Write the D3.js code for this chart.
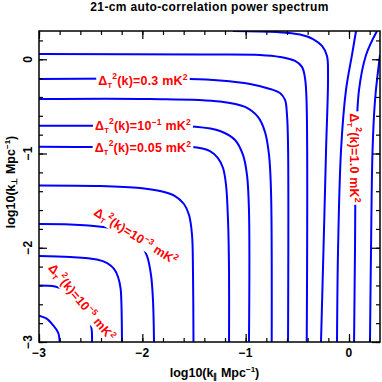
<!DOCTYPE html>
<html><head><meta charset="utf-8">
<script src="https://cdn.jsdelivr.net/npm/d3@7"></script>
<style>body{margin:0;background:#fff} svg{display:block}</style>
</head><body>
<script>
// ---------- data (log10 k_par, log10 k_perp) ----------
const title = "21-cm auto-correlation power spectrum";
const xTickValues = [-3, -2, -1, 0];
const yTickValues = [-3, -2, -1, 0];
const xTickLabels = ["−3", "−2", "−1", "0"];
const yTickLabels = ["−3", "−2", "−1", "0"];

const C1 = [[-3.0,-2.72],[-2.93,-2.75],[-2.865,-2.82],[-2.815,-2.90],[-2.80,-3.0]];
const C2 = [[-3,-2.40],[-2.845,-2.41],[-2.74,-2.45],[-2.64,-2.52],[-2.565,-2.63],[-2.515,-2.745],[-2.49,-2.87],[-2.487,-3]];
const C3 = [[-3,-2.087],[-2.70,-2.098],[-2.44,-2.125],[-2.34,-2.162],[-2.274,-2.225],[-2.235,-2.31],[-2.211,-2.427],[-2.202,-2.607],[-2.197,-3]];
const C4 = [[-3,-1.748],[-2.70,-1.753],[-2.38,-1.78],[-2.216,-1.812],[-2.10,-1.875],[-2.013,-1.971],[-1.955,-2.087],[-1.916,-2.289],[-1.897,-2.554],[-1.887,-3]];
const C5 = [[-3,-1.339],[-2.41,-1.345],[-2.023,-1.366],[-1.829,-1.398],[-1.684,-1.451],[-1.597,-1.536],[-1.548,-1.652],[-1.519,-1.865],[-1.51,-2.236],[-1.505,-3]];
const C6 = [[-3,-0.928],[-2.41,-0.932],[-1.471,-0.936],[-1.345,-0.974],[-1.268,-1.048],[-1.219,-1.154],[-1.19,-1.334],[-1.171,-1.706],[-1.161,-2.236],[-1.161,-3]];
const C7 = [[-3,-0.705],[-1.926,-0.708],[-1.49,-0.716],[-1.248,-0.761],[-1.103,-0.857],[-1.026,-1.015],[-0.987,-1.228],[-0.968,-1.599],[-0.968,-3]];
const C8 = [[-3,-0.421],[-1.926,-0.421],[-1.248,-0.448],[-1.006,-0.506],[-0.881,-0.612],[-0.813,-0.771],[-0.774,-1.015],[-0.755,-1.387],[-0.748,-3]];
const C9 = [[-3,-0.209],[-1.539,-0.209],[-1.248,-0.225],[-0.958,-0.262],[-0.764,-0.315],[-0.668,-0.358],[-0.619,-0.432],[-0.60,-0.591],[-0.59,-0.902],[-0.59,-3]];
const C10 = [[-3,0.056],[-1.442,0.051],[-0.861,0.046],[-0.668,0.025],[-0.522,-0.018],[-0.455,-0.081],[-0.426,-0.198],[-0.411,-0.432],[-0.409,-3]];
const C11 = [[-1.123,0.30],[-0.697,0.289],[-0.474,0.263],[-0.348,0.215],[-0.261,0.141],[-0.213,0.035],[-0.203,-0.167],[-0.222,-0.963],[-0.247,-2.024],[-0.271,-3]];
const C12 = [[-0.116,-3],[-0.106,-2.024],[-0.077,-0.963],[-0.029,-0.326],[0.029,0.046],[0.068,0.30]];
const C13 = [[0.049,-3],[0.058,-2.024],[0.068,-0.963],[0.097,-0.326],[0.165,0.046],[0.271,0.30]];
const C14 = [[0.203,-3],[0.213,-2.024],[0.228,-0.963],[0.252,-0.432],[0.30,0.046]];
const contours = [C1,C2,C3,C4,C5,C6,C7,C8,C9,C10,C11,C12,C13,C14];

const labelValues = ["0.3", "10", "0.05", "10", "10", "1.0"];
const labelExps   = [null, "−1", null, "−3", "−5", null];
const labelX      = [-1.994, -1.994, -1.994, -2.061, -2.584, 0.058];
const labelY      = [-0.220, -0.708, -0.941, -1.875, -2.576, -1.048];
const labelAngle  = [0, 0, 0, 32, 50, 90];

// ---------- drawing ----------
const W = 382, H = 382;
const font = "'Liberation Sans', Arial, Helvetica, sans-serif";
const svg = d3.select("body").append("svg").attr("width", W).attr("height", H);
const x = d3.scaleLinear().domain([-3, 0.3]).range([39, 380]);
const y = d3.scaleLinear().domain([-3, 0.3]).range([342, 31]);

svg.append("defs").append("clipPath").attr("id", "clip")
  .append("rect").attr("x", 39).attr("y", 31).attr("width", 341).attr("height", 311);

const line = d3.line().x(d => x(d[0])).y(d => y(d[1])).curve(d3.curveCatmullRom.alpha(0.5));
svg.append("g").attr("clip-path", "url(#clip)")
  .selectAll("path").data(contours).join("path")
  .attr("d", line).attr("fill", "none").attr("stroke", "#0000ff").attr("stroke-width", 2);

// contour labels
const lg = svg.append("g");
labelValues.forEach((v, i) => {
  const g = lg.append("g").attr("transform", `translate(${x(labelX[i])},${y(labelY[i])}) rotate(${labelAngle[i]})`);
  const t = g.append("text").attr("text-anchor", "middle").attr("y", 4.5)
    .attr("font-family", font).attr("font-weight", "bold").attr("font-size", 12.5)
    .attr("letter-spacing", 0.2).attr("fill", "#ff0000");
  t.append("tspan").text("Δ");
  t.append("tspan").attr("font-size", 7.5).attr("dy", 3).text("T");
  t.append("tspan").attr("font-size", 8.5).attr("dy", -9).text("2");
  t.append("tspan").attr("dy", 6).text("(k)=" + v);
  if (labelExps[i]) t.append("tspan").attr("font-size", 8.5).attr("dy", -5).text(labelExps[i]);
  t.append("tspan").attr("dy", labelExps[i] ? 5 : 0).text(" mK");
  t.append("tspan").attr("font-size", 8.5).attr("dy", -5).text("2");
  const bb = t.node().getBBox();
  g.insert("rect", "text").attr("x", bb.x - 2).attr("y", bb.y + 1).attr("width", bb.width + 4).attr("height", bb.height - 2).attr("fill", "#fff");
});

// axes ticks
const minor = d3.range(-3, 0.31, 0.2);
function ticks(axisFn, tx, ty, vals, size) {
  svg.append("g").attr("transform", `translate(${tx},${ty})`)
    .call(axisFn.tickValues(vals).tickSize(-size).tickFormat(""))
    .call(g => g.select(".domain").remove())
    .call(g => g.selectAll("line").attr("stroke", "#000").attr("stroke-width", 1.2));
}
ticks(d3.axisBottom(x), 0, 342, minor, 4);
ticks(d3.axisBottom(x), 0, 342, xTickValues, 8);
ticks(d3.axisTop(x), 0, 31, minor, 4);
ticks(d3.axisTop(x), 0, 31, xTickValues, 8);
ticks(d3.axisLeft(y), 39, 0, minor, 4);
ticks(d3.axisLeft(y), 39, 0, yTickValues, 8);
ticks(d3.axisRight(y), 380, 0, minor, 4);
ticks(d3.axisRight(y), 380, 0, yTickValues, 8);

svg.append("rect").attr("x", 39).attr("y", 31).attr("width", 341).attr("height", 311)
  .attr("fill", "none").attr("stroke", "#000").attr("stroke-width", 1.5);

// tick labels
svg.append("g").selectAll("text").data(xTickValues).join("text")
  .attr("x", d => x(d)).attr("y", 357).attr("text-anchor", "middle")
  .attr("font-family", font).attr("font-weight", "bold").attr("font-size", 12).attr("letter-spacing", 0.5)
  .text((d, i) => xTickLabels[i]);
svg.append("g").selectAll("text").data(yTickValues).join("text")
  .attr("transform", d => `translate(32,${y(d)}) rotate(-90)`).attr("text-anchor", "middle")
  .attr("font-family", font).attr("font-weight", "bold").attr("font-size", 12).attr("letter-spacing", 0.5)
  .text((d, i) => yTickLabels[i]);

// title
svg.append("text").attr("x", 209.5).attr("y", 11).attr("text-anchor", "middle")
  .attr("font-family", font).attr("font-weight", "bold").attr("font-size", 12).attr("letter-spacing", 0.35).text(title);

// x axis label
const xl = svg.append("text").attr("x", 214.5).attr("y", 377).attr("text-anchor", "middle")
  .attr("font-family", font).attr("font-weight", "bold").attr("font-size", 12.5);
xl.append("tspan").text("log10(k");
xl.append("tspan").attr("font-size", 8).attr("dy", 2).text("∥");
xl.append("tspan").attr("dy", -2).text(" Mpc");
xl.append("tspan").attr("font-size", 8).attr("dy", -5).text("−1");
xl.append("tspan").attr("dy", 5).text(")");

// y axis label
const yl = svg.append("text").attr("transform", "translate(15,182) rotate(-90)").attr("text-anchor", "middle")
  .attr("font-family", font).attr("font-weight", "bold").attr("font-size", 12.5);
yl.append("tspan").text("log10(k");
yl.append("tspan").attr("font-size", 8).attr("dy", 2).text("⊥");
yl.append("tspan").attr("dy", -2).text(" Mpc");
yl.append("tspan").attr("font-size", 8).attr("dy", -5).text("−1");
yl.append("tspan").attr("dy", 5).text(")");
</script>
</body></html>
